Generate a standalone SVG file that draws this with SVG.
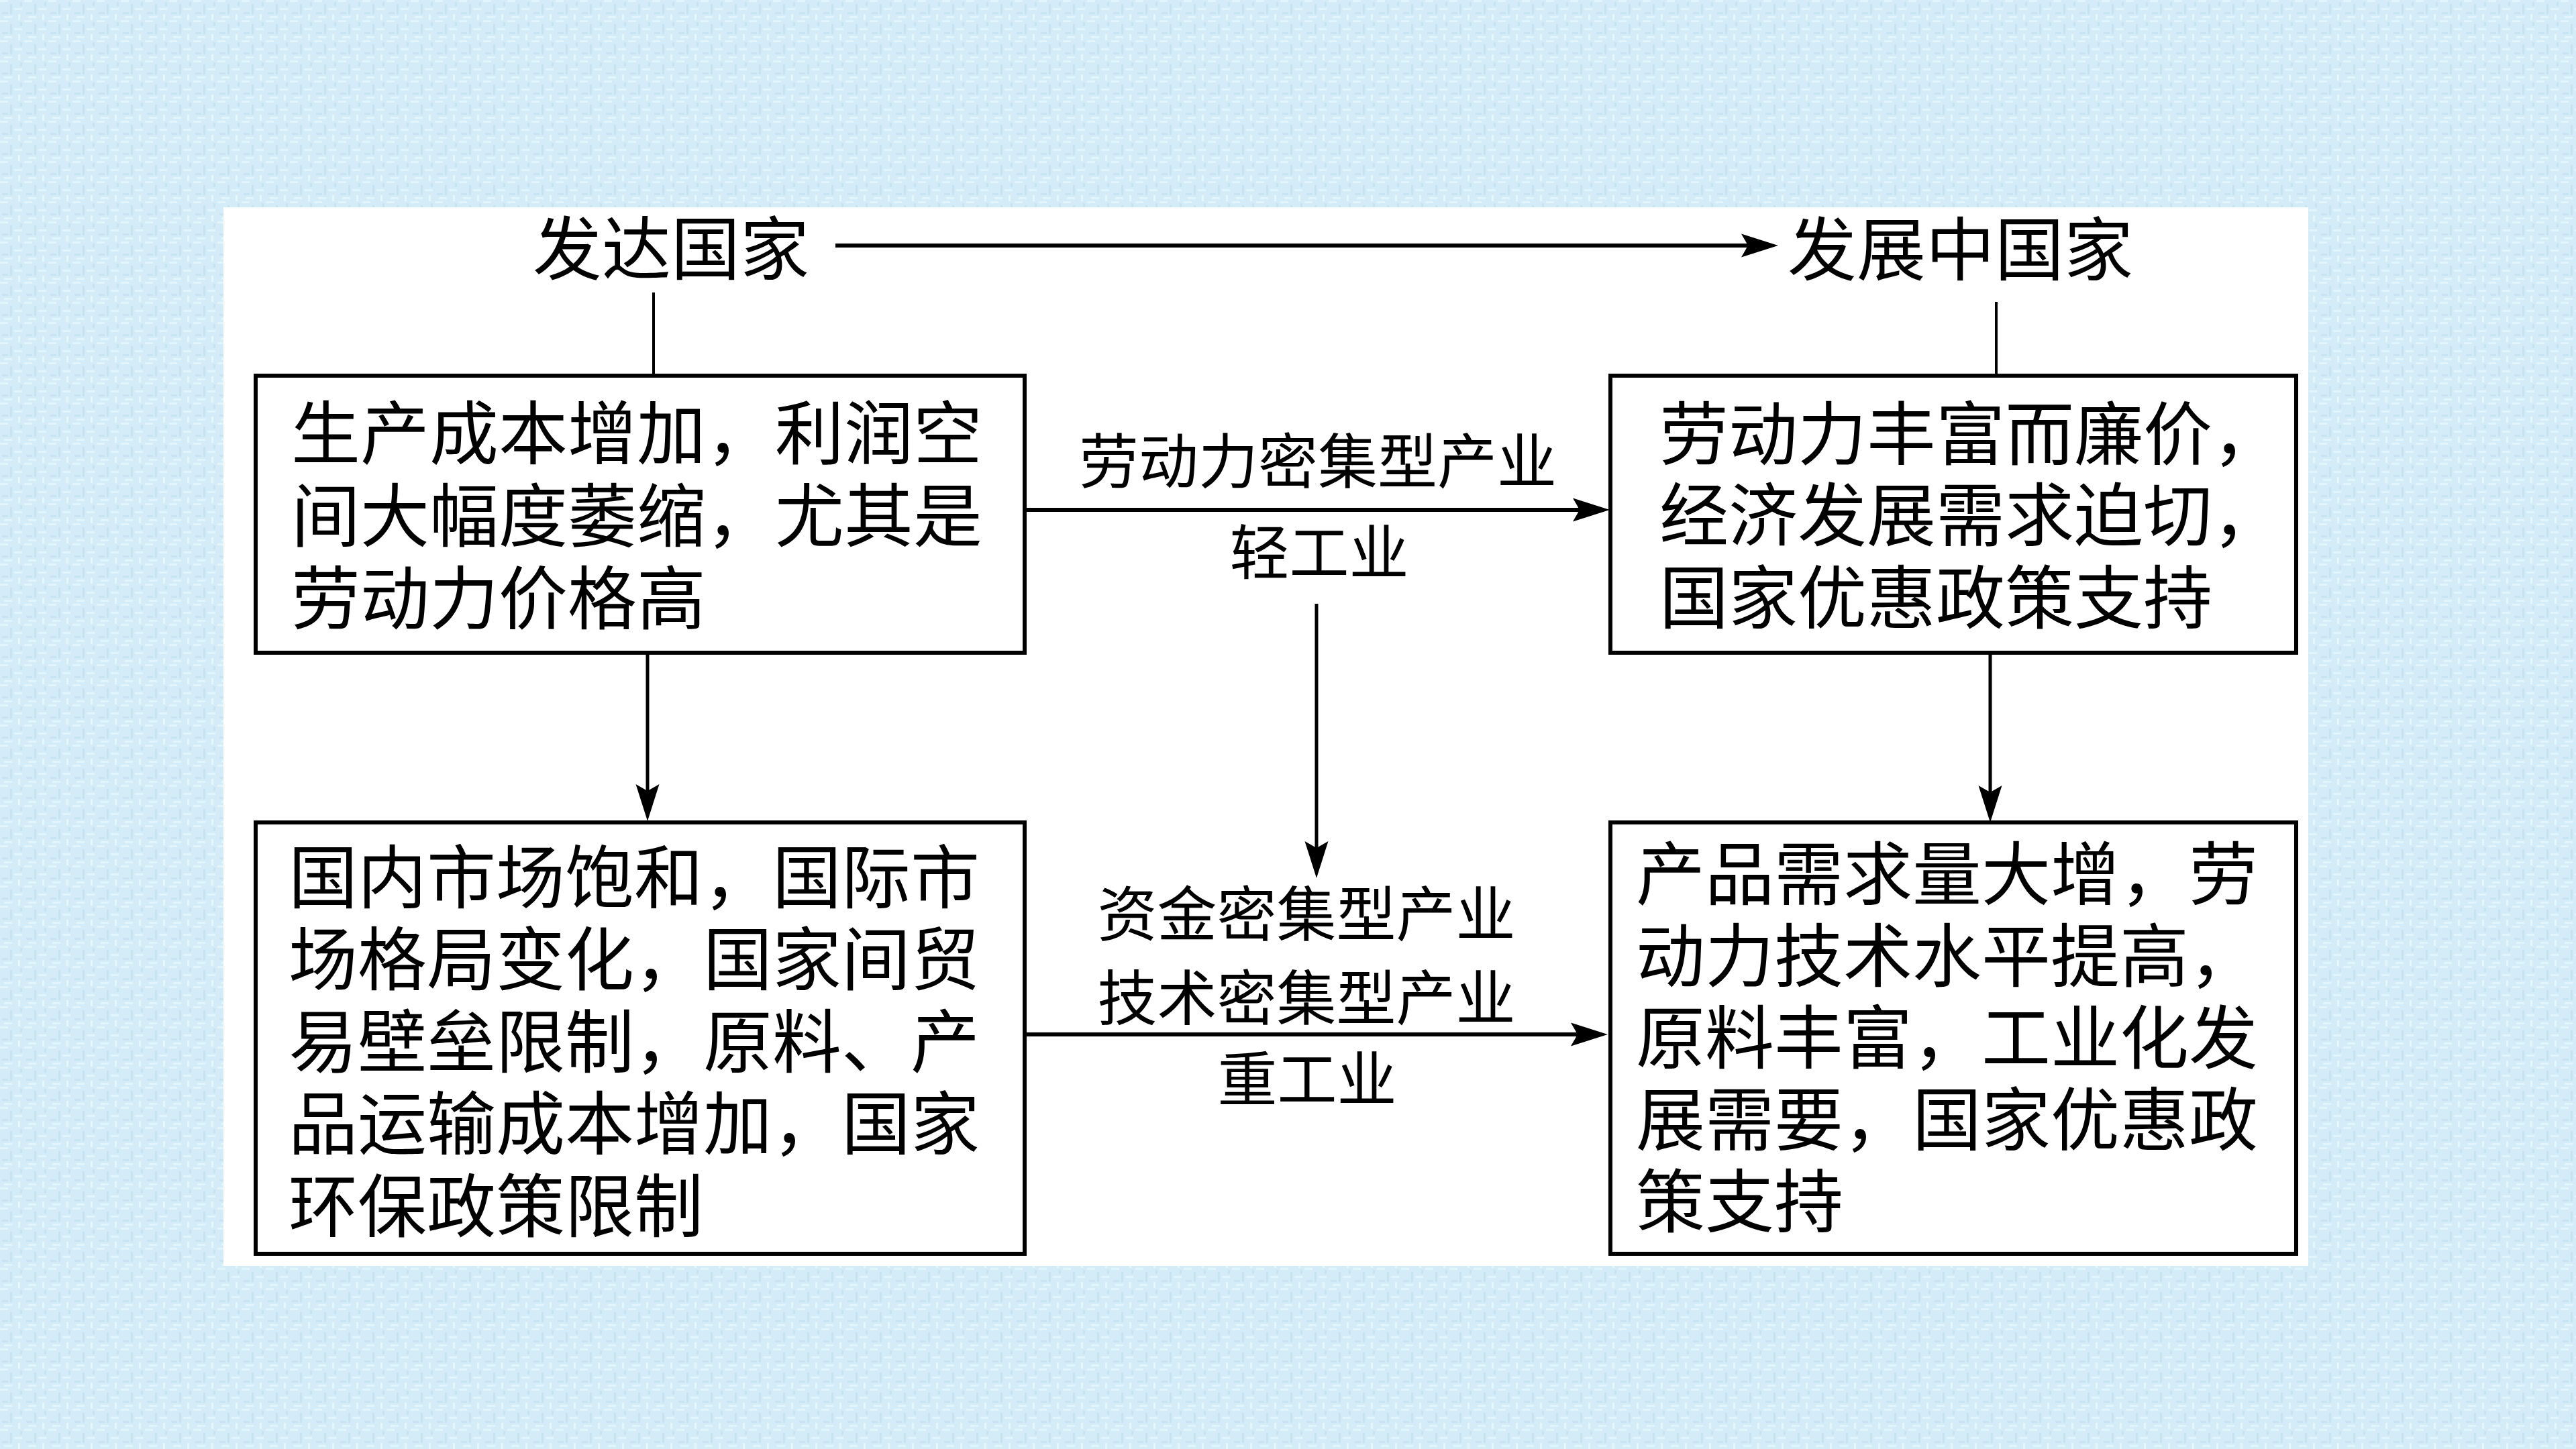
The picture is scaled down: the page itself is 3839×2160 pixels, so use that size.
<svg xmlns="http://www.w3.org/2000/svg" width="3839" height="2160" viewBox="0 0 3839 2160">
<style>
.t{font-family:"Liberation Serif","Noto Sans CJK SC",serif;font-size:103px;fill:#000}
.m{font-family:"Liberation Serif","Noto Sans CJK SC",serif;font-size:89px;fill:#000;text-anchor:middle}
.box{fill:#fff;stroke:#000;stroke-width:6}
.c{stroke:#000;fill:none}
</style>
<defs>
<pattern id="bg" width="36" height="30" patternUnits="userSpaceOnUse">
<rect width="36" height="30" fill="#d3ecf7"/>
<rect x="0" y="0" width="12" height="3" fill="#e3f5fc"/>
<rect x="15" y="6" width="3" height="15" fill="#c6e3f1"/>
<rect x="21" y="12" width="12" height="3" fill="#e3f5fc"/>
<rect x="3" y="18" width="9" height="3" fill="#c8e4f2"/>
<rect x="27" y="21" width="3" height="9" fill="#e6f6fd"/>
<rect x="6" y="24" width="12" height="3" fill="#e3f5fc"/>
<rect x="30" y="3" width="3" height="6" fill="#c6e3f1"/>
</pattern>
<marker id="arr" markerUnits="userSpaceOnUse" markerWidth="60" markerHeight="40" viewBox="0 -20 60 40" refX="10" refY="0" orient="auto">
<path d="M0,-17.5 L55,0 L0,17.5 L10,0 Z" fill="#000"/>
</marker>
</defs>
<rect width="3839" height="2160" fill="url(#bg)"/>
<rect x="333" y="309" width="3107" height="1578" fill="#fff"/>

<g id="connectors">
<line class="c" x1="1245" y1="366" x2="2605" y2="366" stroke-width="6" marker-end="url(#arr)"/>
<line class="c" x1="974" y1="436" x2="974" y2="560" stroke-width="4"/>
<line class="c" x1="2975" y1="450" x2="2975" y2="560" stroke-width="4"/>
<line class="c" x1="1527" y1="760" x2="2354" y2="760" stroke-width="6" marker-end="url(#arr)"/>
<line class="c" x1="1962" y1="900" x2="1962" y2="1264" stroke-width="5" marker-end="url(#arr)"/>
<line class="c" x1="965" y1="973" x2="965" y2="1179" stroke-width="5" marker-end="url(#arr)"/>
<line class="c" x1="2966" y1="973" x2="2966" y2="1181" stroke-width="5" marker-end="url(#arr)"/>
<line class="c" x1="1527" y1="1542" x2="2351" y2="1542" stroke-width="6" marker-end="url(#arr)"/>
<text class="m" x="1964" y="720">劳动力密集型产业</text>
<text class="m" x="1966" y="856">轻工业</text>
<text class="m" x="1947" y="1395">资金密集型产业</text>
<text class="m" x="1947" y="1520">技术密集型产业</text>
<text class="m" x="1948" y="1641">重工业</text>
</g>

<g id="developed">
<text class="t" x="794" y="409">发达国家</text>
</g>
<g id="developing">
<text class="t" x="2664" y="410">发展中国家</text>
</g>

<g id="box-tl">
<rect class="box" x="381" y="560" width="1146" height="413"/>
<text class="t" x="434" y="684">生产成本增加，利润空</text>
<text class="t" x="434" y="807">间大幅度萎缩，尤其是</text>
<text class="t" x="434" y="930">劳动力价格高</text>
</g>

<g id="box-tr">
<rect class="box" x="2400" y="560" width="1022" height="413"/>
<text class="t" x="2473" y="685">劳动力丰富而廉价，</text>
<text class="t" x="2473" y="806">经济发展需求迫切，</text>
<text class="t" x="2473" y="929">国家优惠政策支持</text>
</g>

<g id="box-bl">
<rect class="box" x="381" y="1226" width="1146" height="643"/>
<text class="t" x="430" y="1346">国内市场饱和，国际市</text>
<text class="t" x="430" y="1468">场格局变化，国家间贸</text>
<text class="t" x="430" y="1591">易壁垒限制，原料、产</text>
<text class="t" x="430" y="1713">品运输成本增加，国家</text>
<text class="t" x="430" y="1836">环保政策限制</text>
</g>

<g id="box-br">
<rect class="box" x="2400" y="1226" width="1022" height="643"/>
<text class="t" x="2438" y="1341">产品需求量大增，劳</text>
<text class="t" x="2438" y="1463">动力技术水平提高，</text>
<text class="t" x="2438" y="1585">原料丰富，工业化发</text>
<text class="t" x="2438" y="1707">展需要，国家优惠政</text>
<text class="t" x="2438" y="1829">策支持</text>
</g>
</svg>
